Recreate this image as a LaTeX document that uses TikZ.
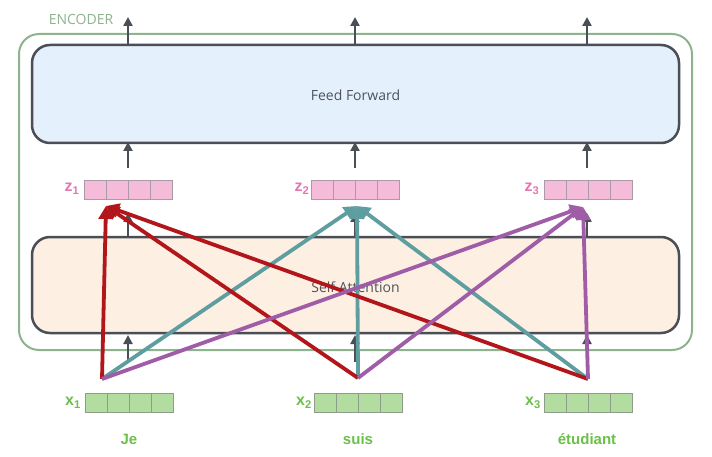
\documentclass[tikz,border=0pt]{standalone}
\usepackage{fontspec}
\setmainfont{Open Sans}
\newfontfamily\boldsans{Liberation Sans}
\usetikzlibrary{arrows.meta}
\definecolor{encgreen}{HTML}{8DB48D}
\definecolor{boxborder}{HTML}{4A4F57}
\definecolor{ffill}{HTML}{E4F0FC}
\definecolor{safill}{HTML}{FDEFE2}
\definecolor{zfill}{HTML}{F5BCDA}
\definecolor{zline}{HTML}{A99AA6}
\definecolor{xfill}{HTML}{B3DDA0}
\definecolor{xline}{HTML}{8E9C8A}
\definecolor{zlab}{HTML}{E676B2}
\definecolor{xlab}{HTML}{6CC04A}
\definecolor{attred}{HTML}{B2161B}
\definecolor{attteal}{HTML}{5E9EA0}
\definecolor{attpurple}{HTML}{A05DA7}
\definecolor{txtgray}{HTML}{4E535A}
\tikzset{
  bigbox/.style={draw=boxborder, line width=2.5pt, rounded corners=18pt, minimum width=647pt, inner sep=0pt},
  cell/.style={draw, line width=1pt, minimum width=22pt, minimum height=19pt, inner sep=0pt, outer sep=0pt},
  zcell/.style={cell, fill=zfill, draw=zline},
  xcell/.style={cell, fill=xfill, draw=xline},
  flow/.style={draw=boxborder, line width=2.5pt, -{Triangle[length=9pt,width=9pt]}},
  att/.style={line width=3.8pt, -{Triangle[length=13pt,width=14pt]}},
  lab/.style={font=\boldsans\bfseries\fontsize{16}{16}\selectfont, inner sep=0pt},
  word/.style={font=\boldsans\bfseries\fontsize{15}{15}\selectfont, text=xlab, inner sep=0pt}
}
\begin{document}
\begin{tikzpicture}[x=1pt,y=-1pt]
\useasboundingbox (0,0) rectangle (712,457);
\fill[white] (0,0) rectangle (712,457);
% encoder frame
\draw[encgreen, line width=2pt, rounded corners=20pt] (19,34) rectangle (692,350);
\node[text=encgreen, font=\fontsize{14}{14}\selectfont, inner sep=0pt] (enc) at (81,19) {ENCODER};
% big boxes
\node[bigbox, fill=ffill, minimum height=98pt] (ff) at (355.5,94) {};
\node[text=txtgray, font=\fontsize{14}{14}\selectfont] (fft) at (355.5,95) {Feed Forward};
\node[bigbox, fill=safill, minimum height=96pt] (sa) at (355.5,285) {};
\node[text=txtgray, font=\fontsize{14}{14}\selectfont] (sat) at (355.5,287) {Self Attention};
% z vectors
\foreach \n/\x in {1/84,2/311,3/544}{
  \foreach \i in {0,1,2,3}{
    \node[zcell] (z\n c\i) at ({\x+11+22*\i},190.5) {};
  }
}
% x vectors
\foreach \n/\x in {1/85,2/314,3/544}{
  \foreach \i in {0,1,2,3}{
    \node[xcell] (x\n c\i) at ({\x+11+22*\i},402.5) {};
  }
}
\node[lab, text=zlab] (zl1) at (72,189) {z\textsubscript{1}};
\node[lab, text=zlab] (zl2) at (302,189) {z\textsubscript{2}};
\node[lab, text=zlab] (zl3) at (532,189) {z\textsubscript{3}};
\node[lab, text=xlab] (xl1) at (73,403) {x\textsubscript{1}};
\node[lab, text=xlab] (xl2) at (304,403) {x\textsubscript{2}};
\node[lab, text=xlab] (xl3) at (533,403) {x\textsubscript{3}};
\node[word] (w1) at (129,439) {Je};
\node[word] (w2) at (358,439) {suis};
\node[word] (w3) at (587,439) {étudiant};
% flow arrow coordinates
\foreach \n/\x in {1/128,2/355,3/587}{
  \coordinate (top\n s) at (\x,45);
  \coordinate (top\n e) at (\x,17);
  \coordinate (mid\n s) at (\x,168);
  \coordinate (mid\n e) at (\x,142);
  \coordinate (sa\n s) at (\x,237);
  \coordinate (sa\n e) at (\x,213);
  \coordinate (in\n s) at (\x,362);
  \coordinate (in\n e) at (\x,335);
}
\foreach \n in {1,2,3}{
  \draw[flow] (top\n s) -- (top\n e);
  \draw[flow] (mid\n s) -- (mid\n e);
  \draw[flow] (sa\n s) -- (sa\n e);
  \draw[flow] (in\n s) -- (in\n e);
}
% attention origins and targets
\coordinate (o1) at (102,379);
\coordinate (o2) at (358,378);
\coordinate (o3) at (588,379);
\coordinate (t1) at (106,206);
\coordinate (t2) at (357,206);
\coordinate (t3) at (583,207);
\foreach \o in {1,2,3}{
  \draw[att, attteal] (o\o) -- (t2);
}
\foreach \o in {1,2,3}{
  \draw[att, attred] (o\o) -- (t1);
}
\foreach \o in {1,2,3}{
  \draw[att, attpurple] (o\o) -- (t3);
}
\end{tikzpicture}
\end{document}
